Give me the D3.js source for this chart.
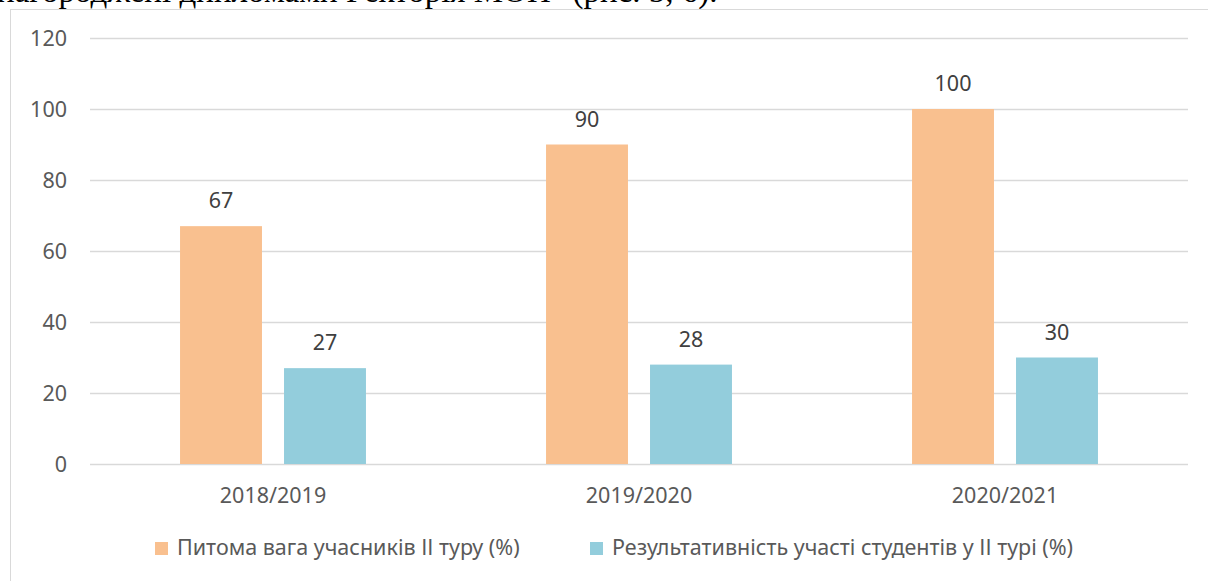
<!DOCTYPE html>
<html>
<head>
<meta charset="utf-8">
<script src="https://cdn.jsdelivr.net/npm/d3@7"></script>
<style>
  body { margin: 0; background: #fff; overflow: hidden; }
  svg { display: block; }
</style>
</head>
<body>
<svg id="chart" width="1208" height="581"></svg>
<script>
// chart data
var categories = ["2018/2019", "2019/2020", "2020/2021"];
var seriesNames = ["Питома вага учасників ІІ туру (%)", "Результативність участі студентів у ІІ турі (%)"];
var shareValues = [67, 90, 100];
var resultValues = [27, 28, 30];
var yTicks = [0, 20, 40, 60, 80, 100, 120];
var colors = ["#F9C08F", "#93CDDC"];

var svg = d3.select("#chart");
var font = "'Noto Sans', sans-serif";
var fs = 21.5;

// cut-off line of document text above the chart
svg.append("text")
  .attr("x", -3).attr("y", 2)
  .attr("font-family", "'Liberation Serif', 'Times New Roman', serif")
  .attr("font-size", 33)
  .attr("fill", "#000")
  .text("нагороджені дипломами Ректорія МОН\" (рис. 5, 6).");

// chart frame (only left and top visible)
svg.append("rect")
  .attr("x", 10.5).attr("y", 9.5)
  .attr("width", 1300).attr("height", 700)
  .attr("fill", "#fff")
  .attr("stroke", "#d9d9d9");

var x0 = d3.scaleBand().domain(categories).range([90, 1188]);
var x1 = d3.scaleBand().domain([0, 1])
  .range([x0.bandwidth() * 0.246, x0.bandwidth() * 0.754])
  .paddingInner(0.212);
var y = d3.scaleLinear().domain([0, 120]).range([464, 38]);

// gridlines
svg.append("g")
  .selectAll("line").data(yTicks).join("line")
  .attr("x1", 90).attr("x2", 1188)
  .attr("y1", function(d) { return Math.round(y(d)) + 0.5; })
  .attr("y2", function(d) { return Math.round(y(d)) + 0.5; })
  .attr("stroke", "#d9d9d9").attr("stroke-width", 1.5);

// y axis labels
svg.append("g")
  .selectAll("text").data(yTicks).join("text")
  .attr("x", 67).attr("y", function(d) { return y(d) + 7.5; })
  .attr("text-anchor", "end")
  .attr("font-family", font).attr("font-size", fs)
  .attr("fill", "#595959")
  .text(function(d) { return d; });

var rows = categories.map(function(c, i) {
  return { cat: c, vals: [shareValues[i], resultValues[i]] };
});

var groups = svg.append("g").selectAll("g").data(rows).join("g")
  .attr("transform", function(d) { return "translate(" + x0(d.cat) + ",0)"; });

groups.selectAll("rect").data(function(d) { return d.vals; }).join("rect")
  .attr("x", function(d, i) { return x1(i); })
  .attr("width", x1.bandwidth())
  .attr("y", function(d) { return y(d); })
  .attr("height", function(d) { return y(0) - y(d); })
  .attr("fill", function(d, i) { return colors[i]; });

groups.selectAll("text").data(function(d) { return d.vals; }).join("text")
  .attr("x", function(d, i) { return x1(i) + x1.bandwidth() / 2; })
  .attr("y", function(d) { return y(d) - 18; })
  .attr("text-anchor", "middle")
  .attr("font-family", font).attr("font-size", fs)
  .attr("fill", "#404040")
  .text(function(d) { return d; });

// category labels
svg.append("g")
  .selectAll("text").data(categories).join("text")
  .attr("x", function(d) { return x0(d) + x0.bandwidth() / 2; })
  .attr("y", 503)
  .attr("text-anchor", "middle")
  .attr("font-family", font).attr("font-size", fs)
  .attr("fill", "#595959")
  .text(function(d) { return d; });

// legend
var legendX = [155, 590];
var legend = svg.append("g").selectAll("g").data(seriesNames).join("g")
  .attr("transform", function(d, i) { return "translate(" + legendX[i] + ",0)"; });
legend.append("rect")
  .attr("x", 0).attr("y", 542).attr("width", 13).attr("height", 13)
  .attr("fill", function(d, i) { return colors[i]; });
legend.append("text")
  .attr("x", 22).attr("y", 555)
  .attr("font-family", font).attr("font-size", fs)
  .attr("fill", "#595959")
  .text(function(d) { return d; });
</script>
</body>
</html>
